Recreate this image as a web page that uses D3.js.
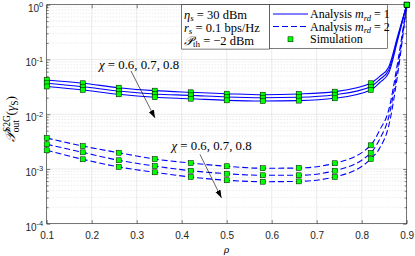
<!DOCTYPE html>
<html>
<head>
<meta charset="utf-8">
<script src="https://cdn.jsdelivr.net/npm/d3@7"></script>
<style>
body { margin: 0; background: #fff; }
.chart svg { display: block; }
.axis text { font-family: "Liberation Sans", Arial, sans-serif; font-size: 10px; fill: #262626; }
.axis line { stroke: #262626; stroke-width: 0.6; }
.axis path { display: none; }
.math { font-family: "Liberation Serif", "Times New Roman", serif; fill: #000; }
</style>
</head>
<body>
<div class="chart"></div>
<script>
// rho grid of the analysis curves, and where simulation points were taken
const rho = [0.1, 0.18, 0.26, 0.34, 0.42, 0.5, 0.58, 0.66, 0.74, 0.82, 0.84, 0.86, 0.88, 0.9];
const simRho = [0.1, 0.18, 0.26, 0.34, 0.42, 0.5, 0.58, 0.66, 0.74, 0.82, 0.9];

// m_rd = 1 (solid), chi = 0.6, 0.7, 0.8
const m1Chi06 = [0.0421, 0.0367, 0.0305, 0.0269, 0.0251, 0.0237, 0.0227, 0.0234, 0.0258, 0.0367, 0.0489, 0.0728, 0.268, 1];
const m1Chi07 = [0.0367, 0.0318, 0.0265, 0.0234, 0.0221, 0.0206, 0.0200, 0.0204, 0.0227, 0.0318, 0.0430, 0.0641, 0.246, 1];
const m1Chi08 = [0.0321, 0.0277, 0.0231, 0.0204, 0.0192, 0.0179, 0.0174, 0.0177, 0.0195, 0.0277, 0.0379, 0.0566, 0.227, 1];
// m_rd = 2 (dashed)
const m2Chi06 = [0.00367, 0.00262, 0.00198, 0.00152, 0.00128, 0.00112, 0.00103, 0.00104, 0.00127, 0.00270, 0.00514, 0.01193, 0.0898, 1];
const m2Chi07 = [0.00282, 0.00201, 0.00144, 0.00113, 0.000929, 0.000819, 0.000766, 0.000766, 0.000929, 0.00196, 0.00352, 0.00889, 0.0698, 1];
const m2Chi08 = [0.00219, 0.00150, 0.00109, 0.000868, 0.000713, 0.000621, 0.000585, 0.000593, 0.000713, 0.00152, 0.00241, 0.00609, 0.0542, 1];

const xTicks = [0.1, 0.2, 0.3, 0.4, 0.5, 0.6, 0.7, 0.8, 0.9];
const yTicks = [1e-4, 1e-3, 1e-2, 1e-1, 1];

const series = [
    {m: 1, vals: m1Chi06}, {m: 1, vals: m1Chi07}, {m: 1, vals: m1Chi08},
    {m: 2, vals: m2Chi06}, {m: 2, vals: m2Chi07}, {m: 2, vals: m2Chi08}
];

const margin = ({top: 4.7, right: 8.3, bottom: 32.3, left: 46.7});
const width = 415 - margin.left - margin.right,
    height = 256 - margin.top - margin.bottom;
const svg = d3.select('.chart').append('svg')
    .attr('width', 415)
    .attr('height', 256)
    .append('g')
    .attr('transform', `translate(${margin.left},${margin.top})`);

const xScale = d3.scaleLinear().domain([0.1, 0.9]).range([0, width]);
const yScale = d3.scaleLog().domain([1e-4, 1]).range([height, 0]);

const yMinor = [];
yTicks.slice(0, -1).forEach(t => { for (let k = 2; k <= 9; k++) yMinor.push(t * k); });

// grid
svg.append('g').selectAll('line')
    .data(yMinor).enter().append('line')
    .attr('x1', 0).attr('x2', width)
    .attr('y1', d => yScale(d)).attr('y2', d => yScale(d))
    .attr('stroke', '#c4c4c4').attr('stroke-width', 0.5).attr('stroke-dasharray', '1,2');
svg.append('g').selectAll('line')
    .data(yTicks).enter().append('line')
    .attr('x1', 0).attr('x2', width)
    .attr('y1', d => yScale(d)).attr('y2', d => yScale(d))
    .attr('stroke', '#dedede').attr('stroke-width', 0.6);
svg.append('g').selectAll('line')
    .data(xTicks).enter().append('line')
    .attr('x1', d => xScale(d)).attr('x2', d => xScale(d))
    .attr('y1', 0).attr('y2', height)
    .attr('stroke', '#dedede').attr('stroke-width', 0.6);

// axes
const xAxis = d3.axisBottom(xScale).tickValues(xTicks).tickSizeInner(-3.6).tickSizeOuter(0)
    .tickPadding(8).tickFormat(d3.format('.1f'));
svg.append('g').attr('class', 'axis x-axis')
    .attr('transform', `translate(0,${height})`).call(xAxis);
svg.append('g').attr('class', 'axis')
    .call(d3.axisTop(xScale).tickValues(xTicks).tickSizeInner(-3.6).tickSizeOuter(0).tickFormat(''));

const yAxis = d3.axisLeft(yScale).tickValues(yTicks).tickSizeInner(-3.6).tickSizeOuter(0)
    .tickPadding(3.5).tickFormat(d => '');
const yG = svg.append('g').attr('class', 'axis y-axis').call(yAxis);
yG.selectAll('.tick text').attr('dy', '0.65em').each(function(d) {
    const t = d3.select(this);
    t.append('tspan').text('10');
    t.append('tspan').attr('dy', -4.5).attr('font-size', '7.5px').text(Math.round(Math.log10(d)));
});
svg.append('g').attr('class', 'axis')
    .call(d3.axisLeft(yScale).tickValues(yMinor).tickSizeInner(-2).tickSizeOuter(0).tickFormat(''));
svg.append('g').attr('class', 'axis').attr('transform', `translate(${width},0)`)
    .call(d3.axisRight(yScale).tickValues(yTicks).tickSizeInner(-3.6).tickSizeOuter(0).tickFormat(''));
svg.append('g').attr('class', 'axis').attr('transform', `translate(${width},0)`)
    .call(d3.axisRight(yScale).tickValues(yMinor).tickSizeInner(-2).tickSizeOuter(0).tickFormat(''));

svg.append('rect')
    .attr('width', width).attr('height', height)
    .attr('fill', 'none').attr('stroke', '#262626').attr('stroke-width', 0.6);

// curves
const line = d3.line()
    .x(d => xScale(d[0]))
    .y(d => yScale(d[1]))
    .curve(d3.curveMonotoneX);
svg.append('g').selectAll('path')
    .data(series).enter().append('path')
    .attr('d', s => line(rho.map((r, i) => [r, s.vals[i]])))
    .attr('fill', 'none')
    .attr('stroke', '#0000ff')
    .attr('stroke-width', 1.1)
    .attr('stroke-dasharray', s => s.m === 2 ? '6,3' : null);

// simulation markers
const simPts = [];
series.forEach(s => rho.forEach((r, i) => {
    if (simRho.some(v => Math.abs(v - r) < 1e-9)) simPts.push([r, s.vals[i]]);
}));
svg.append('g').selectAll('rect')
    .data(simPts).enter().append('rect')
    .attr('x', d => xScale(d[0]) - 2.5)
    .attr('y', d => yScale(d[1]) - 2.5)
    .attr('width', 5).attr('height', 5)
    .attr('fill', '#00ff00').attr('stroke', '#000').attr('stroke-width', 0.5);

// arrows + chi annotations
svg.append('defs').append('marker')
    .attr('id', 'head').attr('viewBox', '0 0 10 10')
    .attr('refX', 10).attr('refY', 5)
    .attr('markerWidth', 8).attr('markerHeight', 8)
    .attr('markerUnits', 'userSpaceOnUse')
    .attr('orient', 'auto')
    .append('path').attr('d', 'M0,1.5 L10,5 L0,8.5 Z').attr('fill', '#000');

const arrows = [
    {x1: 131, y1: 71, x2: 155, y2: 118, tx: 99, ty: 69.5},
    {x1: 200, y1: 154.5, x2: 221.5, y2: 198, tx: 171.5, ty: 150.5}
];
arrows.forEach(a => {
    svg.append('line')
        .attr('x1', a.x1 - margin.left).attr('y1', a.y1 - margin.top)
        .attr('x2', a.x2 - margin.left).attr('y2', a.y2 - margin.top)
        .attr('stroke', '#000').attr('stroke-width', 0.6)
        .attr('marker-end', 'url(#head)');
    const t = svg.append('text').attr('class', 'math')
        .attr('x', a.tx - margin.left).attr('y', a.ty - margin.top)
        .attr('font-size', 12.8);
    t.append('tspan').attr('font-style', 'italic').text('χ');
    t.append('tspan').text(' = 0.6, 0.7, 0.8');
});

// parameter box
svg.append('rect')
    .attr('x', 181.7 - margin.left).attr('y', 0)
    .attr('width', 87.8).attr('height', 44.4)
    .attr('fill', '#fff').attr('stroke', '#262626').attr('stroke-width', 0.6);
const params = [
    {sym: 'η', sub: 's', rest: ' = 30 dBm', y: 18.6},
    {sym: 'r', sub: 's', rest: ' = 0.1 bps/Hz', y: 32},
    {sym: '𝒫', sub: 'th', rest: ' = −2 dBm', y: 44.8}
];
params.forEach(p => {
    const t = svg.append('text').attr('class', 'math')
        .attr('x', 184 - margin.left).attr('y', p.y - margin.top)
        .attr('font-size', 12.5);
    t.append('tspan').attr('font-style', 'italic').text(p.sym);
    t.append('tspan').attr('dy', 2.5).attr('font-size', 9)
        .attr('font-style', p.sub === 'th' ? 'normal' : 'italic').text(p.sub);
    t.append('tspan').attr('dy', -2.5).text(p.rest);
});

// legend
const lg = svg.append('g').attr('transform', `translate(${269.5 - margin.left},0)`);
lg.append('rect')
    .attr('width', 117.8).attr('height', 43.6)
    .attr('fill', '#fff').attr('stroke', '#262626').attr('stroke-width', 0.6);
const legendItems = [
    {label: 'Analysis ', m: '1', dash: null, y: 9.3},
    {label: 'Analysis ', m: '2', dash: '6,3', y: 21.8},
    {label: 'Simulation', m: null, dash: null, y: 34.6}
];
legendItems.forEach(d => {
    if (d.m) {
        lg.append('line')
            .attr('x1', 3.5).attr('x2', 38.5).attr('y1', d.y).attr('y2', d.y)
            .attr('stroke', '#0000ff').attr('stroke-width', 1.1)
            .attr('stroke-dasharray', d.dash);
    } else {
        lg.append('rect')
            .attr('x', 21 - 2.5).attr('y', d.y - 2.5).attr('width', 5).attr('height', 5)
            .attr('fill', '#00ff00').attr('stroke', '#000').attr('stroke-width', 0.5);
    }
    const t = lg.append('text').attr('class', 'math')
        .attr('x', 40.5).attr('y', d.y + 4.1).attr('font-size', 12);
    t.append('tspan').text(d.label);
    if (d.m) {
        t.append('tspan').attr('font-style', 'italic').text('m');
        t.append('tspan').attr('font-style', 'italic').attr('font-size', 8.5).attr('dy', 2.5).text('rd');
        t.append('tspan').attr('dy', -2.5).text(' = ' + d.m);
    }
});

// axis titles
svg.append('text').attr('class', 'math')
    .attr('x', width / 2).attr('y', 253 - margin.top)
    .attr('text-anchor', 'middle').attr('font-size', 11).attr('font-style', 'italic')
    .text('ρ');
const yl = svg.append('text').attr('class', 'math')
    .attr('transform', `translate(${15 - margin.left},${119 - margin.top}) rotate(-90)`)
    .attr('text-anchor', 'middle').attr('font-size', 13.5);
yl.append('tspan').attr('font-style', 'italic').text('𝒫');
yl.append('tspan').attr('font-size', 9.5).attr('dy', -5).text('S2G');
yl.append('tspan').attr('font-size', 9.5).attr('dx', -17).attr('dy', 9).text('out');
yl.append('tspan').attr('dx', 4.5).attr('dy', -4).text('(');
yl.append('tspan').attr('font-style', 'italic').text('γ');
yl.append('tspan').attr('font-size', 9.5).attr('dy', 3).text('S');
yl.append('tspan').attr('dy', -3).text(')');
</script>
</body>
</html>
